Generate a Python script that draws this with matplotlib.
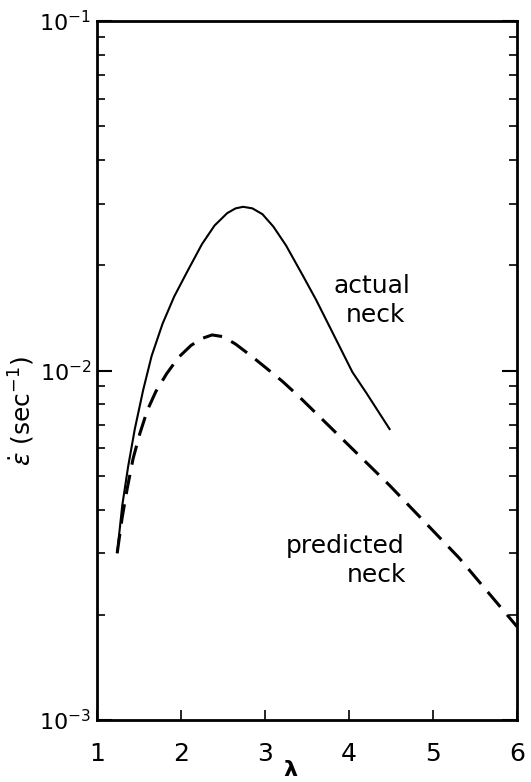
import matplotlib
matplotlib.use("Agg")
import matplotlib.pyplot as plt
from matplotlib.ticker import LogLocator, NullFormatter, FixedLocator

# actual neck (solid)
actual_lam = [1.24, 1.30, 1.37, 1.45, 1.55, 1.65, 1.78, 1.92, 2.08, 2.25, 2.40, 2.55, 2.65, 2.74,
              2.85, 2.97, 3.10, 3.25, 3.45, 3.61, 3.80, 4.04, 4.21, 4.49]
actual_rate = [3.0e-3, 4.1e-3, 5.3e-3, 6.8e-3, 8.8e-3, 1.10e-2, 1.36e-2, 1.63e-2, 1.93e-2, 2.30e-2,
               2.60e-2, 2.82e-2, 2.91e-2, 2.94e-2, 2.91e-2, 2.80e-2, 2.58e-2, 2.28e-2, 1.87e-2,
               1.59e-2, 1.29e-2, 9.9e-3, 8.6e-3, 6.76e-3]

# predicted neck (dashed)
pred_lam = [1.24, 1.30, 1.36, 1.43, 1.51, 1.60, 1.70, 1.83, 1.97, 2.12, 2.25, 2.37, 2.50, 2.65,
            2.85, 3.05, 3.21, 3.41, 4.00, 4.48, 5.31, 6.00]
pred_rate = [3.0e-3, 3.8e-3, 4.6e-3, 5.6e-3, 6.6e-3, 7.7e-3, 8.7e-3, 9.8e-3, 1.09e-2, 1.18e-2,
             1.235e-2, 1.264e-2, 1.25e-2, 1.19e-2, 1.094e-2, 1.0e-2, 9.3e-3, 8.4e-3, 6.1e-3,
             4.7e-3, 2.91e-3, 1.85e-3]

x_ticks = [1, 2, 3, 4, 5, 6]
x_ticklabels = ["1", "2", "3", "4", "5", "6"]

fig = plt.figure(figsize=(5.31, 7.82), dpi=100)
ax = fig.add_axes([97/531, 1 - 720/782, (517 - 97)/531, (720 - 21)/782])

ax.plot(actual_lam, actual_rate, color="black", lw=1.5, solid_capstyle="butt",
        solid_joinstyle="round")
ax.plot(pred_lam, pred_rate, color="black", lw=2.2, linestyle=(0, (6.4, 3.4)),
        dash_capstyle="butt", dash_joinstyle="round")

ax.set_yscale("log")
ax.set_xlim(1, 6)
ax.set_ylim(1e-3, 1e-1)

ax.xaxis.set_major_locator(FixedLocator(x_ticks))
ax.set_xticklabels(x_ticklabels)
ax.yaxis.set_major_locator(LogLocator(base=10, numticks=10))
ax.yaxis.set_minor_locator(LogLocator(base=10, subs=range(2, 10), numticks=20))
ax.yaxis.set_minor_formatter(NullFormatter())

for s in ax.spines.values():
    s.set_linewidth(2.0)

ax.tick_params(axis="x", which="major", direction="in", length=7, width=1.2,
               labelsize=18, pad=16, top=False)
ax.tick_params(axis="y", which="major", direction="in", length=11, width=1.5,
               labelsize=16, pad=4, right=True)
ax.tick_params(axis="y", which="minor", direction="in", length=6, width=1.2, right=True)
ax.tick_params(axis="x", which="minor", bottom=False, top=False)

fig.text(372/531, 1 - 293/782, "actual", ha="center", va="baseline", fontsize=18)
fig.text(376/531, 1 - 322/782, "neck", ha="center", va="baseline", fontsize=18)
fig.text(404/531, 1 - 553/782, "predicted", ha="right", va="baseline", fontsize=18)
fig.text(406/531, 1 - 582/782, "neck", ha="right", va="baseline", fontsize=18)

fig.text(22/531, 1 - 411/782, r"$\dot{\varepsilon}$ (sec$^{-1}$)", rotation=90,
         ha="center", va="center", fontsize=18)
fig.text(290/531, 2/782, "λ", ha="center", va="bottom", fontsize=16, fontweight="bold")

fig.savefig("out.png", dpi=100)
